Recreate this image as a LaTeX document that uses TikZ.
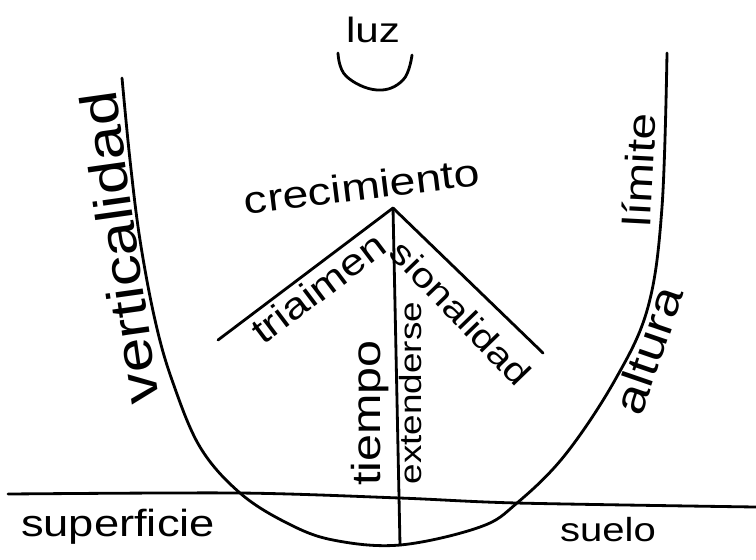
\documentclass[tikz,border=0pt]{standalone}
\usepackage{fontspec}
\setmainfont{Liberation Sans}[FakeStretch=1.2]
\usepackage{tikz}

\begin{document}
\begin{tikzpicture}[x=0.02cm, y=-0.02cm, line width=1.6pt, line cap=round, line join=round,
    word/.style={inner sep=0pt, font=\fontsize{#1}{#1}\selectfont}]
    \useasboundingbox (0,0) rectangle (756,559);

    % Ground line (drawn first)
    \coordinate (gl) at (8,494);
    \coordinate (gr) at (756,507);
    \draw plot[smooth, tension=0.5] coordinates {(gl) (240,493) (400,498) (517,503) (gr)};

    % U-shaped outline
    \draw plot[smooth, tension=0.6]
        coordinates {(122,78) (130,160) (140,240) (155,320) (172,380) (200,447) (240,493)
                     (287,523) (333,540) (400,545) (480,527) (517,503) (565,455)
                     (615,380) (648,307) (662,207) (667,53)};

    % Light source
    \node[word=20] (luz) at (373,30) {luz};
    \draw plot[smooth, tension=0.7] coordinates {(338,53) (346,76) (377,90) (403,80) (412,55)};

    % Growth and its three branches
    \node[word=22, rotate=7] (crec) at (362,186) {crecimiento};
    \coordinate (apex) at (393,208);
    \coordinate (tl) at (218,340);
    \coordinate (tr) at (543,353);
    \coordinate (tb) at (400,545);
    \draw (apex) -- (tl);
    \draw (apex) -- (tr);
    \draw (apex) -- (tb);

    \node[word=21, rotate=37] (tri) at (318,288) {triaimen};
    \node[word=19.5, rotate=-46] (sion) at (461,313) {sionalidad};
    \node[word=23, rotate=90] (tiempo) at (370,413) {tiempo};
    \node[word=17.5, rotate=90] (ext) at (411,393) {extenderse};

    % Side labels
    \node[word=29.5, rotate=98] (vert) at (119,248) {verticalidad};
    \node[word=22.5, rotate=87] (lim) at (639,170) {límite};
    \node[word=25, rotate=71] (alt) at (648,350) {altura};

    % Below and above ground
    \node[word=21.5] (sup) at (118,527) {superficie};
    \node[word=19] (suelo) at (608,530) {suelo};
\end{tikzpicture}
\end{document}
